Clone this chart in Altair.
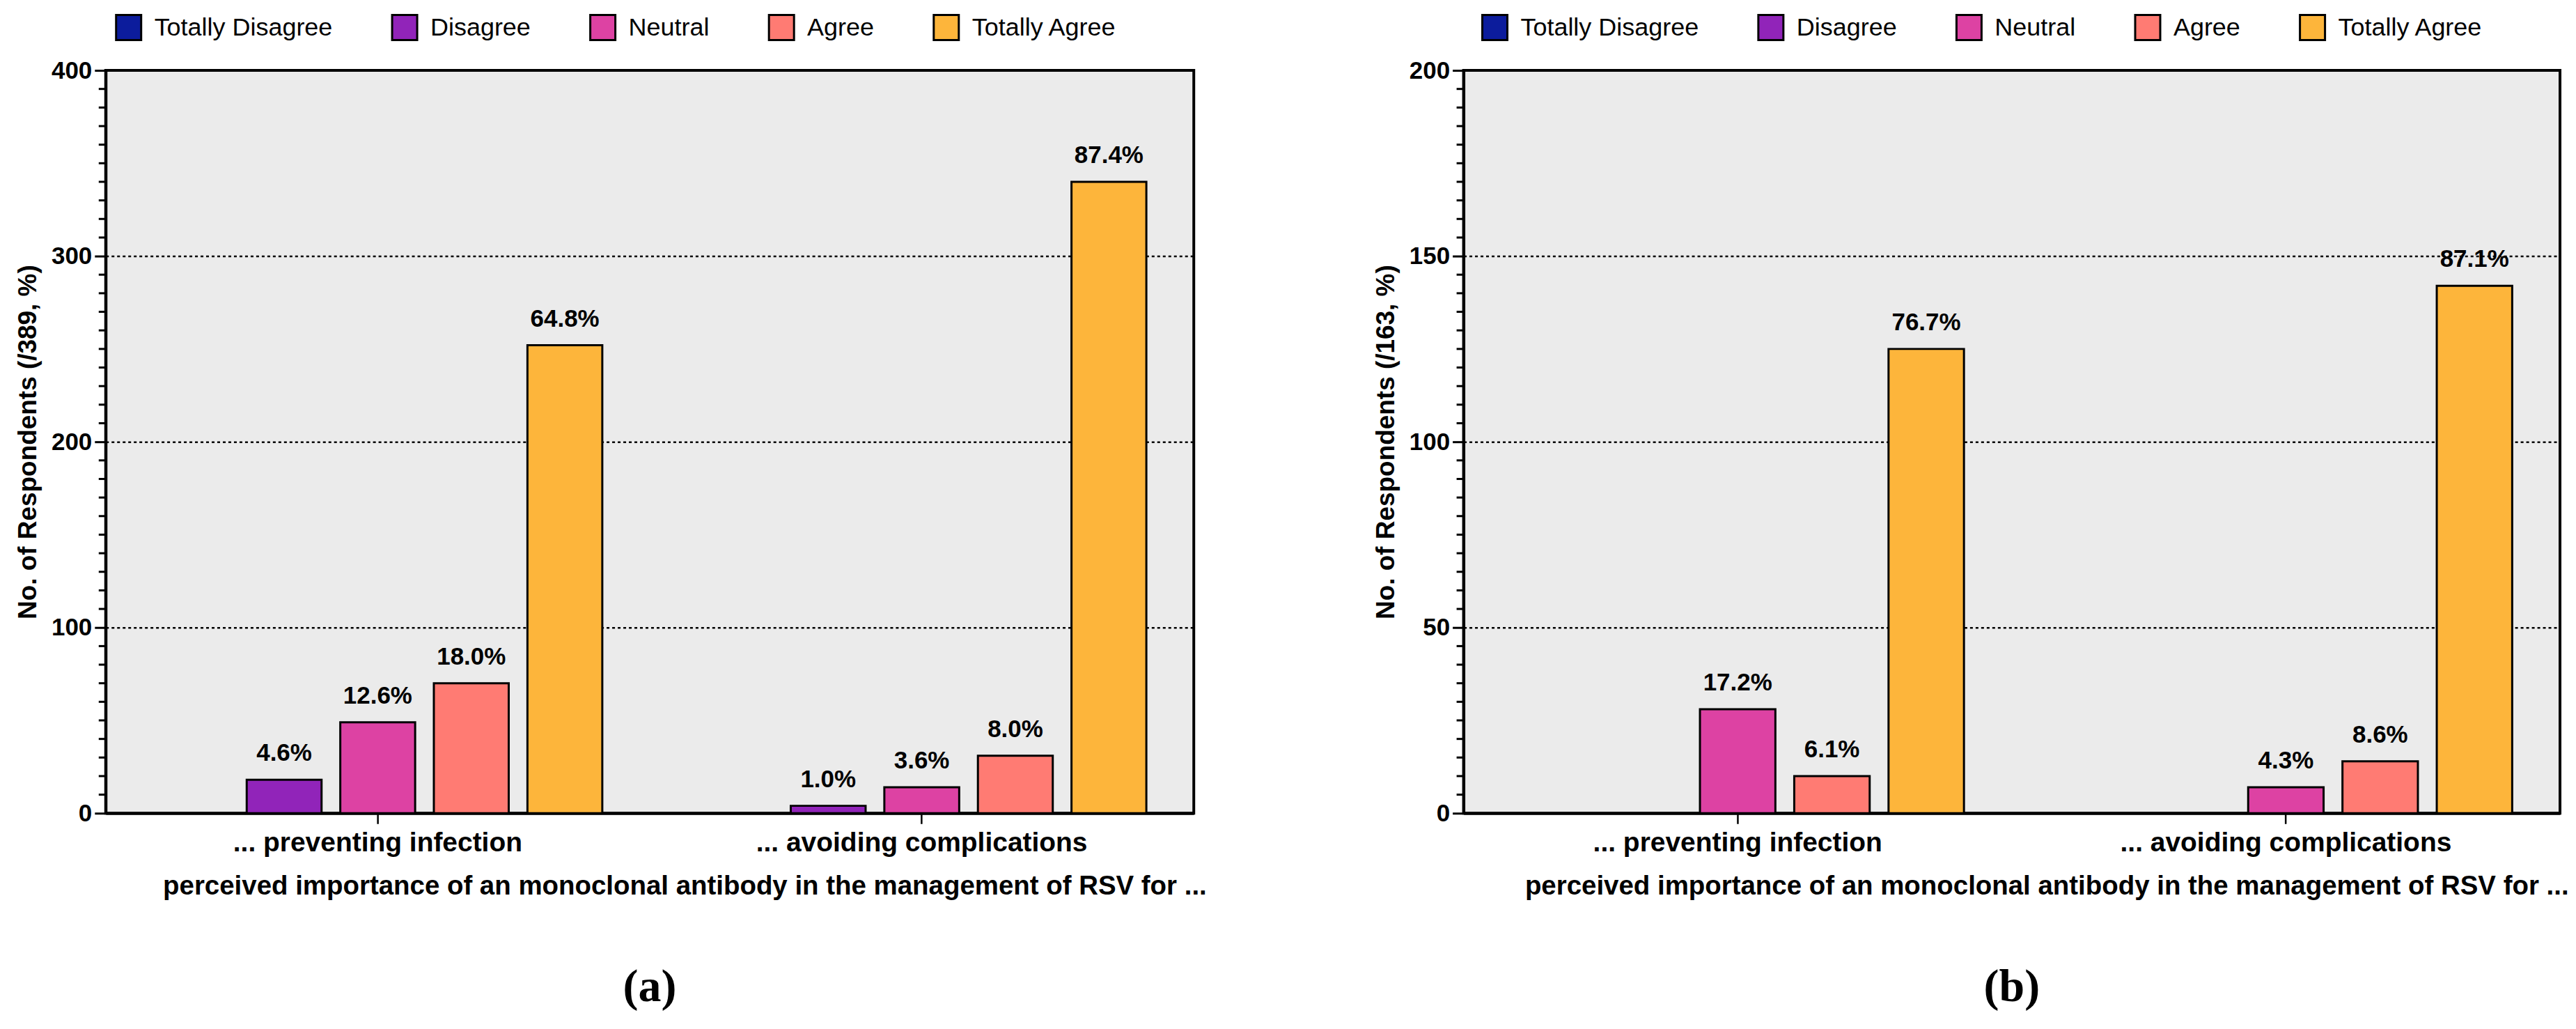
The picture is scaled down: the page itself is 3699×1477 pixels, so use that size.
import altair as alt
import pandas as pd

FONT = "Liberation Sans"

categories = ["... preventing infection", "... avoiding complications"]
responses = ["Totally Disagree", "Disagree", "Neutral", "Agree", "Totally Agree"]
colors = ["#0c1c9c", "#9124b9", "#dd42a3", "#ff7b73", "#fdb53b"]

# Panel (a): n = 389
a_prevent_counts = [0, 18, 49, 70, 252]
a_prevent_labels = ["", "4.6%", "12.6%", "18.0%", "64.8%"]
a_avoid_counts = [0, 4, 14, 31, 340]
a_avoid_labels = ["", "1.0%", "3.6%", "8.0%", "87.4%"]

# Panel (b): n = 163
b_prevent_counts = [0, 0, 28, 10, 125]
b_prevent_labels = ["", "", "17.2%", "6.1%", "76.7%"]
b_avoid_counts = [0, 0, 7, 14, 142]
b_avoid_labels = ["", "", "4.3%", "8.6%", "87.1%"]

XTITLE = "perceived importance of an monoclonal antibody in the management of RSV for ..."


def make_df(prev_counts, prev_labels, avoid_counts, avoid_labels):
    rows = []
    for cat, cnts, labs in [(categories[0], prev_counts, prev_labels),
                            (categories[1], avoid_counts, avoid_labels)]:
        for r, c, l in zip(responses, cnts, labs):
            rows.append({"category": cat, "response": r, "count": c, "label": l})
    return pd.DataFrame(rows)


def panel(df, ymax, major, minor, ytitle, caption, W, H, legend_x):
    major_vals = list(range(0, ymax + 1, major))
    minor_vals = [v for v in range(0, ymax + 1, minor) if v % major != 0]
    x = alt.X(
        "category:N",
        sort=categories,
        scale=alt.Scale(domain=categories, paddingInner=0.14, paddingOuter=0.07),
        axis=alt.Axis(
            title=XTITLE,
            labelAngle=0,
            labelFont=FONT,
            labelFontSize=39,
            labelFontWeight="bold",
            labelLimit=0,
            labelPadding=8,
            tickSize=15,
            tickWidth=2.5,
            titleFont=FONT,
            titleFontSize=38.5,
            titleFontWeight="bold",
            titlePadding=24,
            titleLimit=0,
            titleX=W / 2 + 50,
            titleAlign="center",
        ),
    )
    xo = alt.XOffset(
        "response:N",
        sort=responses,
        scale=alt.Scale(domain=responses, paddingInner=0.2, paddingOuter=0.1),
    )
    y = alt.Y(
        "count:Q",
        scale=alt.Scale(domain=[0, ymax], nice=False, zero=True),
        axis=alt.Axis(
            title=ytitle,
            values=major_vals,
            labelOverlap=False,
            labelFlush=False,
            labelFont=FONT,
            labelFontSize=35,
            labelFontWeight="bold",
            labelPadding=4,
            tickSize=16,
            tickWidth=3,
            grid=True,
            gridColor="black",
            gridDash=[4, 4],
            gridWidth=2.5,
            gridOpacity={
                "condition": {
                    "test": f"datum.value > 0 && datum.value < {ymax}",
                    "value": 1,
                },
                "value": 0,
            },
            titleFont=FONT,
            titleFontSize=37,
            titleFontWeight="bold",
            titlePadding=14,
        ),
    )
    color = alt.Color(
        "response:N",
        sort=responses,
        scale=alt.Scale(domain=responses, range=colors),
        legend=alt.Legend(
            title=None,
            orient="none",
            legendX=legend_x,
            legendY=-82,
            direction="horizontal",
            columns=5,
            columnPadding=78,
            symbolType="square",
            symbolSize=1300,
            symbolStrokeColor="black",
            symbolStrokeWidth=3,
            labelFont=FONT,
            labelFontSize=36,
            labelLimit=0,
            labelOffset=17,
        ),
    )
    base = alt.Chart(df)
    bars = (
        base.mark_bar(stroke="black", strokeWidth=3)
        .encode(x=x, xOffset=xo, y=y, color=color)
        .transform_filter("datum.count > 0")
    )
    labels = (
        base.mark_text(
            baseline="bottom", dy=-20, font=FONT, fontSize=35, fontWeight="bold", color="black"
        )
        .encode(x=x, xOffset=xo, y=y, text="label:N")
        .transform_filter("datum.label != ''")
    )
    minor_ticks = (
        alt.Chart(pd.DataFrame({"count": minor_vals}))
        .mark_rule(color="black", strokeWidth=3)
        .encode(y=y, x=alt.value(-10), x2=alt.value(0))
    )
    return alt.layer(bars, labels, minor_ticks).properties(
        width=W,
        height=H,
        title=alt.TitleParams(
            text=caption,
            orient="bottom",
            anchor="middle",
            frame="group",
            font="Liberation Serif",
            fontSize=66,
            fontWeight="bold",
            offset=95,
            color="black",
        ),
    )


df_a = make_df(a_prevent_counts, a_prevent_labels, a_avoid_counts, a_avoid_labels)
df_b = make_df(b_prevent_counts, b_prevent_labels, b_avoid_counts, b_avoid_labels)

pa = panel(df_a, 400, 100, 10, "No. of Respondents (/389, %)", "(a)", 1565, 1068, 13)
pb = panel(df_b, 200, 50, 5, "No. of Respondents (/163, %)", "(b)", 1577, 1068, 25)

chart = (
    alt.hconcat(pa, pb, spacing=234)
    .resolve_scale(color="independent", y="independent", x="independent", xOffset="independent")
    .properties(padding={"left": 11, "top": 8, "right": 0, "bottom": 0}, background="white")
    .configure_view(fill="#ebebeb", stroke="black", strokeWidth=4)
    .configure_axis(domainColor="black", domainWidth=4, tickColor="black",
                    labelColor="black", titleColor="black")
)

chart.save("out.html", embed_options={"renderer": "svg", "actions": False})
